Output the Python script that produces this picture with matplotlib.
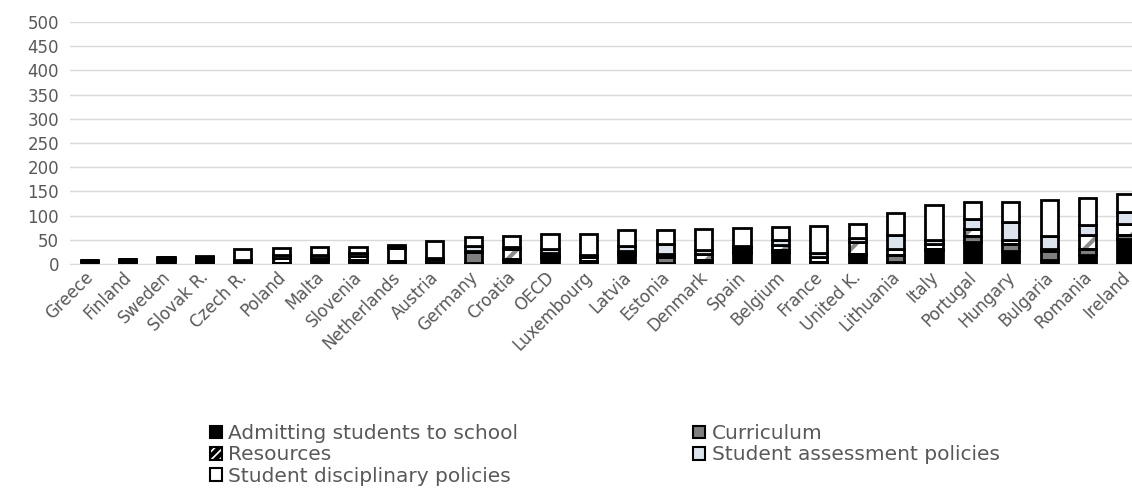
import matplotlib
matplotlib.use("Agg")
import matplotlib.pyplot as plt
import matplotlib.transforms as mtransforms
import numpy as np
from matplotlib.patches import Patch

countries = ["Greece", "Finland", "Sweden", "Slovak R.", "Czech R.", "Poland", "Malta",
             "Slovenia", "Netherlands", "Austria", "Germany", "Croatia", "OECD",
             "Luxembourg", "Latvia", "Estonia", "Denmark", "Spain", "Belgium", "France",
             "United K.", "Lithuania", "Italy", "Portugal", "Hungary", "Bulgaria",
             "Romania", "Ireland"]

admitting =     [6, 6, 8, 5, 3, 3, 8, 6, 4, 5, 2, 8, 12, 4, 18, 3, 6, 22, 25, 3, 18, 4, 28, 45, 26, 9, 18, 52]
curriculum =    [2, 2, 4, 4, 1, 0, 2, 2, 3, 6, 22, 2, 5, 2, 3, 12, 2, 5, 3, 2, 3, 14, 4, 13, 16, 17, 13, 8]
resources =     [0, 2, 3, 2, 0, 10, 3, 8, 26, 0, 3, 22, 6, 8, 5, 5, 12, 6, 12, 10, 25, 13, 10, 15, 7, 5, 28, 23]
assessment =    [0, 0, 0, 3, 5, 5, 6, 6, 2, 2, 10, 3, 8, 4, 12, 22, 8, 4, 10, 8, 8, 28, 8, 19, 37, 26, 22, 24]
disciplinary =  [0, 0, 0, 3, 21, 15, 16, 13, 5, 35, 18, 22, 31, 44, 32, 28, 45, 38, 26, 55, 29, 46, 72, 36, 42, 76, 55, 38]

series = [admitting, curriculum, resources, assessment, disciplinary]
names = ["Admitting students to school", "Curriculum", "Resources",
         "Student assessment policies", "Student disciplinary policies"]
fills = ["black", "#7f7f7f", "white", "#dde3ec", "white"]

plt.rcParams["hatch.linewidth"] = 3.0

fig = plt.figure(figsize=(11.32, 4.88), dpi=100)
ax = fig.add_axes([70 / 1132, (488 - 264) / 488, 28 * 38.4 / 1132, 242 / 488])

x = np.arange(len(countries))
w = 0.45
bottom = np.zeros(len(countries))
for vals, name, fc in zip(series, names, fills):
    vals = np.array(vals, dtype=float)
    if name == "Resources":
        # gray diagonal stripe, then black outline on top
        ax.bar(x, vals, w, bottom=bottom, color=fc, edgecolor="#8c8c8c", hatch="/", linewidth=0, zorder=2)
        ax.bar(x, vals, w, bottom=bottom, fill=False, edgecolor="black", linewidth=2.0, zorder=3)
    else:
        ax.bar(x, vals, w, bottom=bottom, color=fc, edgecolor="black", linewidth=2.0, zorder=3)
    bottom += vals

ax.set_xlim(-0.5, len(countries) - 0.5)
ax.set_ylim(0, 500)
ax.set_yticks(np.arange(0, 501, 50))
ax.grid(axis="y", color="#d9d9d9", linewidth=1.0, zorder=0)
ax.set_axisbelow(True)
for s in ["left", "right", "top"]:
    ax.spines[s].set_visible(False)
ax.spines["bottom"].set_color("#d9d9d9")
ax.tick_params(axis="y", length=0, labelsize=12, labelcolor="#595959", pad=8)
ax.tick_params(axis="x", length=0, labelsize=12, labelcolor="#595959", pad=3)
ax.set_xticks(x)
ax.set_xticklabels(countries, rotation=45, ha="right", rotation_mode="anchor")
shift = mtransforms.ScaledTranslation(-5 / 100, 0, fig.dpi_scale_trans)
for lab in ax.get_xticklabels():
    lab.set_transform(lab.get_transform() + shift)

handles = [
    Patch(facecolor="black", edgecolor="black", linewidth=1.5),
    Patch(facecolor="white", edgecolor="black", hatch="////", linewidth=1.5),
    Patch(facecolor="white", edgecolor="black", linewidth=1.5),
    Patch(facecolor="#7f7f7f", edgecolor="black", linewidth=1.5),
    Patch(facecolor="#dde3ec", edgecolor="black", linewidth=1.5),
]
labels = [names[0], names[2], names[4], names[1], names[3]]
leg = fig.legend(handles, labels, ncol=2, loc="upper left", bbox_to_anchor=(200 / 1132, 1 - 414 / 488),
                 frameon=False, fontsize=14.5, handlelength=0.6, handleheight=0.6,
                 handletextpad=0.3, columnspacing=8.7, labelspacing=0.12, borderpad=0)
for t in leg.get_texts():
    t.set_color("#595959")

fig.savefig("out.png", dpi=100)
